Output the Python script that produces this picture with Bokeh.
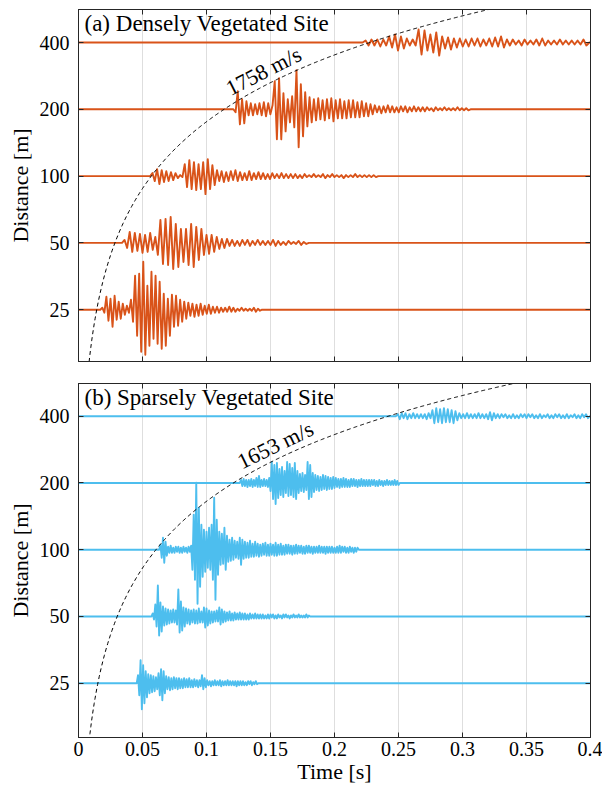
import numpy as np
from bokeh.plotting import figure
from bokeh.layouts import column
from bokeh.models import (FixedTicker, CustomJSTickFormatter, LinearAxis, LogAxis,
                          Label, Range1d)
from bokeh.embed import file_html
from bokeh.resources import INLINE

# ---------------- data ----------------
distances = [25, 50, 100, 200, 400]          # offsets [m]
time_ticks = [0, 0.05, 0.1, 0.15, 0.2, 0.25, 0.3, 0.35, 0.4]
velocity_a = 1758                            # m/s
velocity_b = 1653                            # m/s
title_a = "(a) Densely Vegetated Site"
title_b = "(b) Sparsely Vegetated Site"

# Each waveform: start time [s], half-period [s], signed peak amplitudes (counts)
# ---- (a) densely vegetated ----
a25_t0, a25_dt = 0.017, 0.0016
a25_amp = [2, -3, 13, -11, 11, -17, 14, -10, 8, -9, 6, -5, 4, -3,
           10, -12, 34, -26, 36, -42, 48, -45, 24, -36, 38, -29, 34, -34, 28, -39, 16, -36, 11, -26, 15, -17, 14, -16,
           10, -12, 8, -9, 7, -6, 6, -7, 5, -6, 6, -5, 4, -4, 5, -4, 3, -3, 3, -3, 2, -2, 2, -2, 3, -2, 2, -2, 1, -1,
           2, -1, 1, -1, 1, -1, 2, -2, 1, -1]
a50_t0, a50_dt = 0.034, 0.002
a50_amp = [3, -5, 11, -9, 10, -8, 9, -10, 8, -9, 10, -7,
           6, -12, 23, -21, 24, -22, 26, -26, 19, -24, 14, -19, 14, -22, 19, -24, 16, -17, 14, -12, 8, -11, 8, -9,
           6, -6, 4, -5, 4, -3,
           3, -3, 2, -3, 3, -2, 3, -3, 2, -2, 3, -2, 2, -2, 2, -2, 3, -3, 2, -2, 1, -2, 2, -1, 1, -1, 2, -2, 1, -1]
a100_t0, a100_dt = 0.056, 0.0018
a100_amp = [3, -5, 7, -8, 6, -6, 5, -5, 4, -4, 3, -2, 1, -1,
            12, -11, 16, -13, 14, -14, 12, -13, 14, -18, 17, -13, 11, -9,
            6, -5, 5, -6, 4, -5, 5, -4, 6, -5, 4, -4, 3, -4, 5, -4, 3, -3, 4, -3, 3, -3, 2, -3, 3, -2, 2, -2, 3, -2,
            2, -2, 2, -2, 2, -2, 1, -2, 2, -1, 1, -1, 2, -1, 1, -1, 2, -2, 1, -1,
            2, -1, 1, -1, 1, -2, 1, -1, 1, -1, 2, -1, 1, -1, 1, -1, 1, -1, 1, -1]
a200_t0, a200_dt = 0.121, 0.0017
a200_amp = [-3, 18, -15, 10, -14, 8, -6, 6, -6, 5, -5, 6, -6, 7, -7, 6, -5, 4,
            28, -30, 31, -30, 16, -22, 10, -13, 13, -18, 39, -38, 25, -27, 17, -17, 12, -13,
            10, -11, 11, -10, 9, -11, 10, -9, 11, -12, 9, -9, 10, -9, 8, -9, 9, -8, 9, -8, 7, -8, 8, -7, 6, -7, 5, -5,
            4, -3, 3, -4, 3, -3, 4, -3, 3, -3, 2, -3, 3, -2, 3, -3, 2, -2, 3, -2, 2, -2, 2, -2,
            2, -1, 1, -2, 2, -1, 1, -1, 2, -1, 1, -1, 1, -1, 2, -1, 1, -1, 1, -1]
a400_t0, a400_dt = 0.222, 0.0023
a400_amp = [2, -3, 3, -3, 3, -4, 3, -3, 6, -5, 8, -8, 6, -6, 4, -3, 3, -3,
            13, -12, 12, -8, 8, -10, 10, -13, 6, -6, 5, -7, 4, -5, 4, -4, 3,
            -4, 4, -3, 4, -4, 3, -3, 4, -4, 5, -4, 6, -5, 3, -3,
            3, -2, 2, -3, 3, -2, 2, -2, 3, -3, 4, -3, 2, -2, 2, -2, 3, -2, 2, -2, 2, -2, 2, -2, 3, -3]

# ---- (b) sparsely vegetated ----
b25_t0, b25_dt = 0.0455, 0.001
b25_amp = [8, -12, 23, -26, 18, -20, 12, -14, 9, -10, 8, -9, 7, -8, 6, -6,
           10, -12, 14, -17, 12, -10,
           7, -6, 6, -7, 5, -6, 6, -5, 5, -6, 5, -5, 4, -5, 5, -4, 4, -4, 5, -4, 3, -4, 4, -3, 3, -4, 3, -3,
           8, -6, 5, -4,
           3, -2, 2, -3, 2, -2, 3, -2, 2, -2, 3, -3, 2, -2, 2, -2, 3, -2, 2, -2, 2, -2, 2, -3, 2, -2, 2, -2, 2, -2,
           1, -2, 2, -1, 2, -2, 1, -1, 2, -1]
b50_t0, b50_dt = 0.057, 0.001
b50_amp = [3, -3,
           12, -10, 31, -19, 14, -15, 10,
           -9, 8, -8, 7, -7, 6, -6, 7, -6, 6,
           -8, 27, -16, 15, -14, 9, -10,
           8, -7, 7, -8, 6, -6, 7, -7, 6, -7, 8, -6, 5, -6,
           9, -11, 8, -9, 6, -7,
           5, -6, 5, -5, 6, -5, 9, -8, 7, -6, 5, -5,
           4, -4, 5, -4, 3, -4, 4, -3, 3, -3, 4, -3, 3, -3, 3, -3, 2, -3, 3, -2, 2, -2, 3, -2, 2,
           -2, 2, -2, 2, -2, 1, -2, 2, -2, 2, -1, 2, -2, 1, -2, 2, -1, 1, -2, 2, -1, 2, -1, 1, -2, 1, -1, 2, -1, 1,
           -1, 2, -1, 1, -1, 1, -1, 2, -1, 1]
b100_t0, b100_dt = 0.063, 0.001
b100_amp = [5, -8, 12, -13, 8, -6,
            3, -3, 4, -3, 2, -3, 3, -2, 3, -3, 2, -3, 3, -2, 2, -3, 3, -2, 4,
            -20, 35, -30, 67, -54, 42, -37, 25, -27, 20,
            -22, 18, -18, 22, -20, 25,
            -30, 52, -50, 30, -25,
            18, -15, 16, -14, 22, -20, 14, -12, 10, -11, 12, -10, 9, -8,
            8, -9, 12, -15, 10, -9, 8, -8, 7, -8, 9, -7, 6, -7, 8, -6, 6, -7, 5,
            -6, 6, -5, 7, -6, 5, -6, 6, -5, 5, -6, 7, -6, 5, -5, 6, -5, 4, -5, 5, -4, 5, -4, 4, -5, 4, -4, 5, -4, 4,
            -3, 4, -4, 3, -4, 4,
            -3, 4, -3, 3, -4, 3, -3, 3, -3, 4, -3, 3, -3, 3, -4, 3, -3, 3, -3, 3, -3, 2, -3, 3, -3, 4, -3, 3, -2, 3,
            -3, 2, -3, 3, -2, 2, -3, 2, -2, 2]
b200_t0, b200_dt = 0.126, 0.001
b200_amp = [3, -3, 4, -3, 3, -4, 3, -3, 4, -4, 3, -3, 5, -4, 7, -4, 3, -3, 4, -3, 3, -4, 5,
            -8, 21, -16, 18, -21, 20, -15, 14, -12, 16, -14,
            12, -10, 21, -13, 19, -12, 15, -14, 20, -16, 12, -10,
            9, -8, 10, -9, 8, -7, 21, -16, 18, -14, 10, -9,
            8, -7, 7, -8, 6, -7, 8, -6, 7, -7, 6, -6, 5, -6, 6, -5,
            5, -4, 4, -5, 4, -4, 5, -4, 4, -4, 3, -4, 4, -3, 4, -3, 3, -4, 3, -3, 4, -3, 3, -3, 3, -3, 3, -3, 3, -2,
            3, -3, 2, -3, 3, -2, 2, -3, 2, -2, 3, -2, 2, -2, 2, -2, 3, -2, 2, -2]
b400_t0, b400_dt = 0.248, 0.0015
b400_amp = [2, -3, 3, -2, 3, -3, 2, -2, 3, -2, 2,
            -2, 2, -2, 2, -3, 3, -2,
            6, -7, 8, -6, 7, -7, 8, -6, 7, -6, 6, -7, 5, -4, 3,
            -2, 2, -2, 3, -2, 2, -2, 2, -2, 3, -2, 2, -2, 2, -3,
            4, -4, 3, -2,
            2, -2, 2, -1, 2, -2, 1, -2, 2, -2, 1, -2, 2, -1, 2, -2, 2, -1, 2, -2, 1, -2, 2, -2, 1, -1, 2, -2, 1, -2,
            2, -1, 2, -2, 1, -2, 2, -2, 1, -1, 2, -2, 1, -2, 2, -1, 2, -2]

# ---------------- style ----------------
FONT = "Liberation Serif"
AX = "#262626"
GRID = "#dedede"
COLOR_A = "#D95319"
COLOR_B = "#4DBEEE"
GAIN = 66.75      # amplitude counts per trace spacing (one octave of distance)
T_END = 0.4
TICK_FS = "20px"
LABEL_FS = "22px"
TITLE_FS = "23px"
VEL_FS = "22px"


def trace_xy(dist, t0, dt, amps):
    xs = [0.0, t0]
    vals = [0.0, 0.0]
    for i, a in enumerate(amps):
        xs.append(min(t0 + (i + 1) * dt, T_END))
        vals.append(a)
    xs.append(min(t0 + (len(amps) + 1) * dt, T_END))
    vals.append(0.0)
    xs.append(T_END)
    vals.append(0.0)
    ys = [dist * 2 ** (v / GAIN) for v in vals]
    return xs, ys


def hidden_labels(axis):
    axis.major_label_text_color = None
    axis.major_label_text_font_size = "1px"
    axis.major_label_standoff = 0


def panel(traces, color, vel, title, lab_t, lab_angle,
          k_lo, k_hi, frame_h, b_top, b_bottom, bottom_labels):
    p = figure(frame_width=512, frame_height=frame_h,
               x_range=Range1d(0, T_END),
               y_range=Range1d(25 * 2 ** k_lo, 25 * 2 ** k_hi),
               y_axis_type="log", output_backend="svg", toolbar_location=None,
               min_border_left=78, min_border_right=12,
               min_border_top=b_top, min_border_bottom=b_bottom)
    p.background_fill_color = "white"
    p.border_fill_color = "white"
    p.outline_line_color = AX
    p.outline_line_width = 1

    # grid
    p.xgrid.ticker = FixedTicker(ticks=time_ticks)
    p.xgrid.grid_line_color = GRID
    p.xgrid.grid_line_width = 1
    p.ygrid.grid_line_color = None

    # x axis (bottom)
    xa = p.xaxis[0]
    xa.ticker = FixedTicker(ticks=time_ticks)
    xa.formatter = CustomJSTickFormatter(code="return (Math.round(tick*100)/100).toString();")
    xa.major_tick_in = 5
    xa.major_tick_out = 0
    xa.minor_tick_line_color = None
    xa.axis_line_color = AX
    xa.major_tick_line_color = AX
    xa.major_label_text_font = FONT
    if bottom_labels:
        xa.major_label_text_color = "black"
        xa.major_label_text_font_size = TICK_FS
        xa.major_label_standoff = 4
        xa.axis_label = "Time [s]"
        xa.axis_label_text_font = FONT
        xa.axis_label_text_font_size = LABEL_FS
        xa.axis_label_text_font_style = "normal"
        xa.axis_label_text_color = "black"
        xa.axis_label_standoff = 0
    else:
        hidden_labels(xa)

    # y axis (left)
    ya = p.yaxis[0]
    ya.ticker = FixedTicker(ticks=distances)
    ya.formatter = CustomJSTickFormatter(code="return tick.toString();")
    ya.major_tick_in = 5
    ya.major_tick_out = 0
    ya.minor_tick_line_color = None
    ya.axis_line_color = AX
    ya.major_tick_line_color = AX
    ya.major_label_text_font = FONT
    ya.major_label_text_font_size = TICK_FS
    ya.major_label_text_color = "black"
    ya.major_label_standoff = 9
    ya.axis_label = "Distance [m]"
    ya.axis_label_text_font = FONT
    ya.axis_label_text_font_size = LABEL_FS
    ya.axis_label_text_font_style = "normal"
    ya.axis_label_text_color = "black"
    ya.axis_label_standoff = 4

    # box axes (top / right), ticks inward, no labels
    top = LinearAxis(ticker=FixedTicker(ticks=time_ticks), major_tick_in=5, major_tick_out=0,
                     axis_line_color=AX, major_tick_line_color=AX, minor_tick_line_color=None)
    hidden_labels(top)
    p.add_layout(top, "above")
    right = LogAxis(ticker=FixedTicker(ticks=distances), major_tick_in=5, major_tick_out=0,
                    axis_line_color=AX, major_tick_line_color=AX, minor_tick_line_color=None)
    hidden_labels(right)
    p.add_layout(right, "right")

    # waveforms
    for dist, (t0, dt, amps) in zip(distances, traces):
        xs, ys = trace_xy(dist, t0, dt, amps)
        p.line(xs, ys, line_color=color, line_width=1.9, line_join="round")

    # travel-time curve d = v t
    tt = np.linspace(0.003, T_END, 600)
    p.line(tt, vel * tt, line_color="black", line_width=1, line_dash="4 3")

    p.add_layout(Label(x=lab_t, y=vel * lab_t, y_offset=1, text=f"{vel} m/s", angle=lab_angle,
                       angle_units="deg", text_align="center", text_baseline="bottom",
                       text_font=FONT, text_font_size=VEL_FS, text_color="black"))
    p.add_layout(Label(x=0, y=25 * 2 ** k_hi, x_offset=6, y_offset=-1, text=title,
                       text_baseline="top", text_align="left", text_font=FONT,
                       text_font_size=TITLE_FS, text_color="black"))
    return p


traces_a = [(a25_t0, a25_dt, a25_amp), (a50_t0, a50_dt, a50_amp), (a100_t0, a100_dt, a100_amp),
            (a200_t0, a200_dt, a200_amp), (a400_t0, a400_dt, a400_amp)]
traces_b = [(b25_t0, b25_dt, b25_amp), (b50_t0, b50_dt, b50_amp), (b100_t0, b100_dt, b100_amp),
            (b200_t0, b200_dt, b200_amp), (b400_t0, b400_dt, b400_amp)]

p1 = panel(traces_a, COLOR_A, velocity_a, title_a, 0.149, 27,
           -0.775, 4.494, 352, 9, 11, False)
p2 = panel(traces_b, COLOR_B, velocity_b, title_b, 0.158, 26,
           -0.813, 4.49, 354, 11, 50, True)

layout = column(p1, p2)
open("out.html", "w").write(file_html(layout, INLINE))
